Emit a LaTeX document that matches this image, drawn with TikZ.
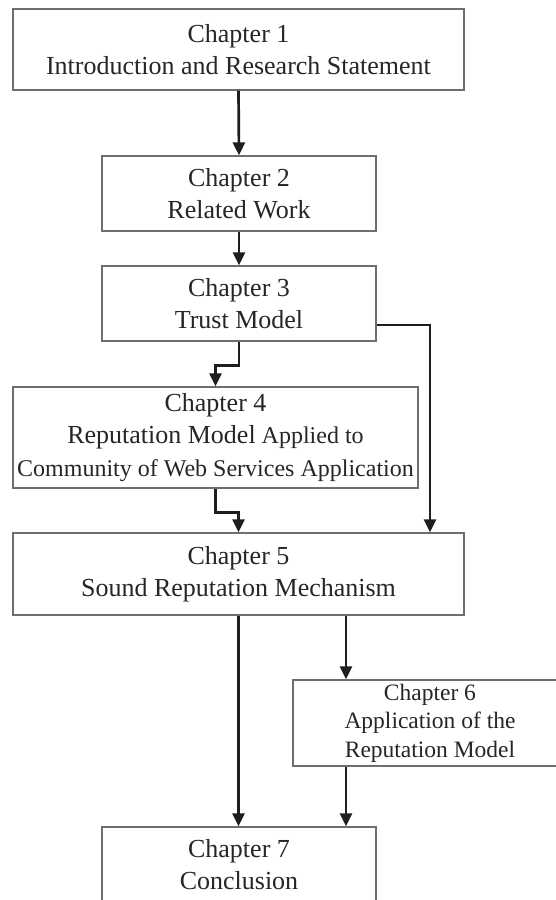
\documentclass[tikz,border=0pt]{standalone}
\usepackage{fontspec}
\setmainfont{Liberation Serif}
\usetikzlibrary{arrows.meta}

\definecolor{boxline}{RGB}{110,110,110}
\definecolor{arrowline}{RGB}{30,30,30}

\tikzset{
  chapbox/.style={draw=boxline, line width=1.3pt, fill=white, inner sep=0pt,
    align=center, font=\fontsize{26}{32}\selectfont, text=black!85},
  flow/.style={draw=arrowline, line width=2.7pt,
    -{Triangle[length=13pt,width=12pt]}, line join=miter},
}

\begin{document}
\begin{tikzpicture}[x=1pt, y=-1pt]
  \useasboundingbox (0,0) rectangle (556,900);

  % chapter boxes
  \node[chapbox, minimum width=451pt, minimum height=81pt] (b1) at (238.5,49.5)
    {Chapter 1\\Introduction and Research Statement};
  \node[chapbox, minimum width=274pt, minimum height=75pt] (b2) at (239,193.5)
    {Chapter 2\\Related Work};
  \node[chapbox, minimum width=274pt, minimum height=75pt] (b3) at (239,303.5)
    {Chapter 3\\Trust Model};
  \node[chapbox, minimum width=405pt, minimum height=101pt,
        font=\fontsize{24}{32.5}\selectfont] (b4) at (215.5,437.5)
    {{\fontsize{26}{32.5}\selectfont Chapter 4}\\
     {\fontsize{26}{32.5}\selectfont Reputation Model} Applied to\\
     Community of Web Services Application};
  \node[chapbox, minimum width=451pt, minimum height=82pt] (b5) at (238.5,574)
    {Chapter 5\\Sound Reputation Mechanism};
  \node[chapbox, minimum width=274pt, minimum height=86pt,
        font=\fontsize{23.5}{28.5}\selectfont] (b6) at (430,723)
    {Chapter 6\\Application of the\\Reputation Model};
  \node[chapbox, minimum width=274pt, minimum height=75pt] (b7) at (239,864.5)
    {Chapter 7\\Conclusion};

  % column used by the two arrows on the right of the lower part
  \coordinate (c6) at (346,0);

  % connectors
  \draw[flow] (b1.south) -- (b2.north);
  \draw[flow] (b2.south) -- (b3.north);
  \draw[flow] (b3.south) -- ++(0,23.5) -| (b4.north);
  \draw[flow] ([yshift=-21.5pt]b3.east) -| ([xshift=191.5pt]b5.north);
  \draw[flow] (b4.south) -- ++(0,24) -| (b5.north);
  \draw[flow] (b5.south) -- (b5.south |- b7.north);
  \draw[flow] (b5.south -| c6) -- (b6.north -| c6);
  \draw[flow] (b6.south -| c6) -- (b7.north -| c6);
\end{tikzpicture}
\end{document}
